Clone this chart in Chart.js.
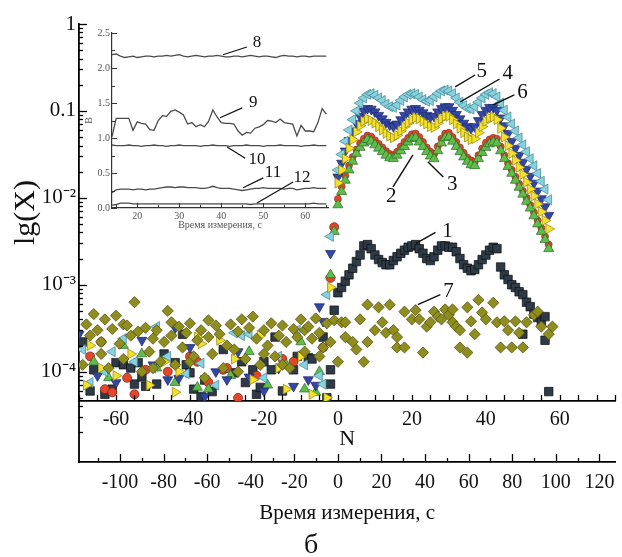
<!DOCTYPE html>
<html>
<head>
<meta charset="utf-8">
<script src="https://cdn.jsdelivr.net/npm/chart.js@4.4.1/dist/chart.umd.min.js"></script>
<style>
  body { margin: 0; background: #fff; }
  #wrap { position: relative; width: 622px; height: 557px; }
  #main { position: absolute; left: 0; top: 0; }
  #inset { position: absolute; left: 70px; top: 20px; }
</style>
</head>
<body>
<div id="wrap">
  <canvas id="main" width="622" height="557"></canvas>
  <canvas id="inset" width="270" height="216"></canvas>
</div>
<script>
// ---- данные основного графика ----
const nMain = [0,1,2,3,4,5,6,7,8,9,10,11,12,13,14,15,16,17,18,19,20,21,22,23,24,25,26,27,28,29,
  30,31,32,33,34,35,36,37,38,39,40,41,42,43,44,45,46,47,48,49,50,51,52,53,54,55,56,57];

// 2 - красные кружки с линией
const s2Main = [0.0097,0.0135,0.018,0.0235,0.0295,0.036,0.0425,0.048,0.052,0.0505,
  0.046,0.042,0.038,0.0345,0.032,0.031,0.034,0.039,0.044,0.049,
  0.054,0.055,0.05,0.044,0.038,0.034,0.032,0.039,0.048,0.055,
  0.056,0.05,0.044,0.038,0.033,0.029,0.027,0.026,0.031,0.037,
  0.043,0.047,0.049,0.048,0.039,0.031,0.025,0.021,0.0175,0.0145,
  0.012,0.01,0.0083,0.0068,0.0055,0.0045,0.0036,0.0029];
// 3 - зелёные треугольники
const s3Main = [0.0083,0.0118,0.0159,0.0209,0.0263,0.0324,0.038,0.0427,0.0468,0.0447,
  0.0407,0.0372,0.0339,0.0309,0.0288,0.0282,0.0309,0.0347,0.0389,0.0437,
  0.0479,0.049,0.0437,0.0389,0.0339,0.0302,0.0282,0.0347,0.0427,0.049,
  0.0501,0.0447,0.0389,0.0339,0.0295,0.0263,0.024,0.0234,0.0282,0.0331,
  0.038,0.0417,0.0437,0.0427,0.0347,0.0282,0.0229,0.0191,0.0159,0.0132,
  0.011,0.0091,0.0076,0.0062,0.005,0.0041,0.0033,0.0026];
// 4 - синие треугольники вниз
const s4Main = [0.0174,0.0251,0.0347,0.0457,0.0589,0.0724,0.0871,0.1,0.107,0.105,
  0.0977,0.0891,0.0813,0.0741,0.0692,0.0661,0.0708,0.0794,0.0891,0.0977,
  0.105,0.107,0.102,0.0955,0.0891,0.0851,0.0871,0.0977,0.107,0.112,
  0.112,0.102,0.0912,0.0813,0.0724,0.0661,0.0631,0.0661,0.0776,0.0912,
  0.102,0.11,0.11,0.102,0.0832,0.0676,0.055,0.0447,0.0372,0.0309,
  0.0257,0.0214,0.0178,0.0148,0.012,0.0098,0.0079,0.0063];
// 5 - голубые треугольники влево
const s5Main = [0.0209,0.0316,0.0447,0.0603,0.0794,0.1,0.123,0.141,0.155,0.158,
  0.151,0.141,0.132,0.12,0.112,0.11,0.117,0.132,0.145,0.155,
  0.158,0.155,0.145,0.135,0.129,0.132,0.145,0.158,0.17,0.174,
  0.17,0.158,0.141,0.126,0.115,0.107,0.105,0.112,0.126,0.141,
  0.155,0.162,0.158,0.145,0.123,0.102,0.0851,0.0708,0.0589,0.049,
  0.0407,0.0339,0.0282,0.0234,0.0191,0.0155,0.0126,0.0095];
// 6 - жёлтые треугольники вправо
const s6Main = [0.0148,0.0209,0.0282,0.0372,0.0468,0.0575,0.0676,0.0759,0.0813,0.0776,
  0.0724,0.066,0.0603,0.055,0.0513,0.049,0.0525,0.0589,0.066,0.0724,
  0.0794,0.0832,0.0813,0.0759,0.0708,0.066,0.0646,0.0724,0.0813,0.0871,
  0.0871,0.0794,0.0708,0.0631,0.0562,0.0501,0.0468,0.0479,0.0562,0.066,
  0.0759,0.0832,0.0851,0.0794,0.0631,0.0501,0.0398,0.0324,0.0269,0.0224,
  0.0186,0.0151,0.0126,0.0105,0.0085,0.0069,0.0055,0.0044];

// точки шума до начала (N < 0), пары [N, значение]
const s1Pts = [[-69,2.2e-4],[-67,6.0e-5],[-66,1.05e-4],[-63,5.5e-5],[-61,6.3e-5],[-60,1.27e-4],[-58,1.2e-4],
  [-56,1.1e-4],[-55,7.2e-5],[-54,1.27e-4],[-53,8.7e-5],[-52,6.8e-5],[-49,7.2e-5],[-47,1.6e-4],[-44,1.27e-4],
  [-42,2.7e-4],[-41,1.2e-4],[-40,9.7e-5],[-39,6.3e-5],[-37,5.2e-5],[-36,8.0e-5],[-34,5.9e-5],[-31,1.8e-4],
  [-28,9.7e-5],[-26,1.3e-4],[-25,7.5e-5],[-23,1.05e-4],[-22,5.5e-5],[-21,6.6e-5],[-20,1.3e-4],[-18,1.05e-4],
  [-17,2.5e-4],[-15,6.0e-5],[-12,1.05e-4],[-11,1.5e-4],[-8,1.45e-4],[-7,1.4e-4],[-4,2.5e-4],[-3,5.0e-5],
  [-2,1.05e-4],[-2,7.2e-5],[-1,5.1e-4],
  [0,8.1e-4],[1,9.3e-4],[2,1.1e-3],[3,1.3e-3],[4,1.55e-3],[5,1.85e-3],[6,2.2e-3],[7,2.8e-3],[8,2.9e-3],
  [9,2.6e-3],[10,2.2e-3],[11,1.95e-3],[12,1.8e-3],[13,1.7e-3],[14,1.7e-3],[15,1.9e-3],[16,2.1e-3],
  [17,2.3e-3],[18,2.5e-3],[19,2.7e-3],[20,2.8e-3],[21,2.9e-3],[22,2.6e-3],[23,2.3e-3],[24,2.0e-3],
  [25,1.9e-3],[26,2.1e-3],[27,2.5e-3],[28,2.8e-3],[29,2.8e-3],[30,2.7e-3],[31,2.7e-3],[32,2.4e-3],
  [33,2.0e-3],[34,1.7e-3],[35,1.55e-3],[36,1.45e-3],[37,1.5e-3],[38,1.7e-3],[39,1.95e-3],[40,2.2e-3],
  [41,2.5e-3],[42,2.7e-3],[43,2.6e-3],[44,1.6e-3],[45,1.3e-3],[46,1.15e-3],[47,1.0e-3],[48,9.3e-4],
  [49,8.3e-4],[50,7.7e-4],[51,6.3e-4],[52,5.6e-4],[53,4.6e-4],[54,4.2e-4],[55,3.7e-4],[56,4.3e-4],
  [50,2.7e-4],[56,2.3e-4],[57,5.9e-5]];
const s2Noise = [[-67,1.5e-4],[-64,2.2e-4],[-63,6.3e-5],[-61,5.8e-5],[-57,8.5e-5],[-55,5.5e-5],[-52,1.05e-4],
  [-46,1.0e-4],[-40,1.5e-4],[-38,1.3e-4],[-35,7.5e-5],[-31,1.05e-4],[-30,1.1e-4],[-27,5.0e-5],[-22,9.0e-5],
  [-15,1.4e-4],[-12,1.3e-4],[-4,1.9e-4],[-2,1.2e-3],[-1,4.6e-3]];
const s3Noise = [[-66,1.3e-4],[-62,8.5e-5],[-58,2.0e-4],[-53,1.6e-4],[-49,1.1e-4],[-44,7.5e-5],[-38,6.6e-5],
  [-35,6.3e-5],[-29,9.0e-5],[-24,1.7e-4],[-19,7.0e-5],[-14,1.2e-4],[-10,2.2e-4],[-9,6.3e-5],[-6,5.8e-5],
  [-5,1.0e-4],[-2,1.3e-3],[-1,4.1e-3]];
const s4Noise = [[-70,2.7e-4],[-65,9.0e-5],[-60,7.5e-5],[-53,2.3e-4],[-50,1.2e-4],[-46,8.1e-5],[-44,3.2e-4],
  [-43,8.4e-5],[-40,1.9e-4],[-36,5.2e-5],[-33,1.0e-4],[-30,8.1e-5],[-27,1.7e-4],[-24,8.7e-5],[-20,6.0e-5],
  [-16,1.1e-4],[-12,6.8e-5],[-8,8.1e-5],[-6,7.0e-5],[-5,5.6e-4],[-4,3.8e-4],[-2,2.3e-3]];
const s5Noise = [[-69,1.8e-4],[-67,7.5e-5],[-63,1.0e-4],[-61,1.7e-4],[-58,2.4e-4],[-55,1.3e-4],[-50,1.1e-4],
  [-49,3.3e-4],[-46,1.5e-4],[-41,9.5e-5],[-37,1.25e-4],[-33,7.0e-5],[-28,2.8e-4],[-26,2.6e-4],[-24,2.7e-4],
  [-20,8.5e-5],[-16,1.5e-4],[-11,3.0e-4],[-9,1.2e-4],[-5,9.0e-5],[-4,7.2e-5],[-3,7.7e-4],[-2,3.6e-3]];
const s6Noise = [[-68,7.0e-5],[-67,2.0e-4],[-64,1.1e-4],[-60,9.0e-5],[-56,1.6e-4],[-51,7.0e-5],[-47,1.3e-4],
  [-44,5.8e-5],[-43,1.0e-4],[-38,2.5e-4],[-37,2.1e-4],[-32,2.3e-4],[-28,1.4e-4],[-23,8.1e-5],[-21,2.6e-4],
  [-16,1.1e-4],[-14,6.3e-5],[-10,1.5e-4],[-7,5.5e-5],[-3,5.0e-5],[-2,9.3e-4]];
// 7 - оливковые ромбы
const s7Pts = [[-69,1.2e-4],[-68,3.5e-4],[-67,2.6e-4],[-66,4.6e-4],[-65,3.0e-4],[-64,2.2e-4],[-64,1.6e-4],
  [-63,4.0e-4],[-62,1.1e-4],[-61,3.1e-4],[-60,4.4e-4],[-59,2.1e-4],[-58,1.4e-4],[-58,3.5e-4],[-57,3.4e-4],
  [-56,2.6e-4],[-55,6.3e-4],[-54,2.9e-4],[-53,1.0e-4],[-52,3.2e-4],[-51,1.7e-4],[-50,2.4e-4],[-50,1.1e-4],
  [-49,3.0e-4],[-48,1.3e-4],[-47,2.2e-4],[-46,5.0e-4],[-45,2.6e-4],[-45,3.7e-4],[-44,1.2e-4],[-43,3.3e-4],
  [-42,1.9e-4],[-41,2.8e-4],[-40,3.6e-4],[-40,1.3e-4],[-39,1.5e-4],[-38,2.3e-4],[-37,3.0e-4],[-36,8.5e-5],
  [-35,2.5e-4],[-35,3.9e-4],[-34,1.6e-4],[-33,3.4e-4],[-32,2.7e-4],[-31,1.1e-4],[-30,2.0e-4],[-29,3.5e-4],
  [-28,1.8e-4],[-27,2.9e-4],[-27,1.0e-4],[-26,4.0e-4],[-25,1.4e-4],[-24,3.2e-4],[-23,4.3e-4],[-22,2.4e-4],
  [-21,1.2e-4],[-20,3.0e-4],[-20,1.6e-4],[-19,2.0e-4],[-18,3.6e-4],[-17,1.5e-4],[-16,2.6e-4],[-15,3.4e-4],
  [-15,1.2e-4],[-14,2.2e-4],[-13,1.1e-4],[-12,3.1e-4],[-11,2.5e-4],[-10,4.0e-4],[-9,1.7e-4],[-9,3.0e-4],
  [-8,3.3e-4],[-7,2.4e-4],[-6,4.1e-4],[-5,2.8e-4],[-5,1.5e-4],[-4,1.9e-4],[-3,3.6e-4],[-2,2.2e-4],[-1,3.9e-4],
  [0,1.3e-4],[1,3.7e-4],[2,2.5e-4],[2,3.7e-4],[4,2.2e-4],[5,1.8e-4],[6,4.0e-4],[7,1.3e-4],[8,5.9e-4],
  [8,2.2e-4],[10,3.0e-4],[11,5.5e-4],[12,3.7e-4],[13,2.8e-4],[14,5.9e-4],[15,3.0e-4],[16,2.5e-4],[16,1.9e-4],
  [18,1.9e-4],[18,4.9e-4],[20,4.0e-4],[21,5.1e-4],[22,4.0e-4],[23,1.66e-4],[24,3.3e-4],[25,3.7e-4],
  [26,4.9e-4],[27,4.3e-4],[28,4.0e-4],[29,5.2e-4],[30,4.5e-4],[31,3.7e-4],[31,5.2e-4],[32,3.3e-4],
  [33,3.0e-4],[33,1.9e-4],[35,5.5e-4],[35,1.66e-4],[36,3.8e-4],[37,2.7e-4],[38,6.7e-4],[39,4.8e-4],
  [40,4.0e-4],[42,6.2e-4],[43,3.7e-4],[44,1.9e-4],[45,3.8e-4],[46,3.0e-4],[47,1.9e-4],[48,3.8e-4],
  [49,2.8e-4],[50,1.9e-4],[51,3.7e-4],[53,4.5e-4],[54,4.9e-4],[55,3.3e-4],[57,2.7e-4],[58,3.3e-4]];

const yTickValues = [1e-4, 1e-3, 1e-2, 0.1, 1];
const yTickLabels = ['10⁻⁴', '10⁻³', '10⁻²', '0.1', '1'];
const nTickValues = [-60, -40, -20, 0, 20, 40, 60];
const timeTickValues = [-100, -80, -60, -40, -20, 0, 20, 40, 60, 80, 100, 120];

// ---- данные вставки (B от времени) ----
const insetT = [14,15,16,17,18,19,20,21,22,23,24,25,26,27,28,29,30,31,32,33,34,35,36,37,38,39,
  40,41,42,43,44,45,46,47,48,49,50,51,52,53,54,55,56,57,58,59,60,61,62,63,64,65];
const b8 = [2.19,2.20,2.17,2.15,2.16,2.17,2.15,2.16,2.17,2.17, 2.16,2.17,2.17,2.18,2.17,2.18,2.19,2.17,2.16,2.17,
  2.18,2.17,2.16,2.17,2.17,2.18,2.17,2.16,2.16,2.17, 2.17,2.16,2.17,2.18,2.17,2.16,2.17,2.17,2.16,2.15,
  2.17,2.18,2.17,2.17,2.16,2.17,2.17,2.16,2.17,2.17, 2.17,2.17];
const b9 = [1.02,1.28,1.28,1.28,1.28,1.11,1.23,1.21,1.20,1.12, 1.11,1.25,1.32,1.31,1.38,1.40,1.37,1.33,1.20,1.22,
  1.16,1.19,1.16,1.24,1.40,1.30,1.22,1.21,1.21,1.20, 1.10,1.04,1.08,1.07,1.14,1.16,1.19,1.25,1.24,1.22,
  1.27,1.22,1.21,1.20,1.03,1.18,1.10,1.10,1.09,1.22, 1.42,1.34];
const b10 = [0.90,0.89,0.89,0.89,0.90,0.89,0.89,0.88,0.89,0.89, 0.90,0.89,0.89,0.88,0.89,0.89,0.90,0.89,0.89,0.89,
  0.89,0.88,0.89,0.89,0.90,0.89,0.89,0.89,0.88,0.89, 0.89,0.89,0.90,0.89,0.89,0.89,0.88,0.89,0.89,0.89,
  0.90,0.89,0.89,0.89,0.89,0.88,0.89,0.89,0.90,0.89, 0.89,0.89];
const b11 = [0.22,0.26,0.27,0.27,0.27,0.26,0.27,0.27,0.26,0.27, 0.27,0.28,0.29,0.30,0.30,0.29,0.30,0.30,0.29,0.29,
  0.29,0.28,0.28,0.29,0.31,0.29,0.28,0.28,0.28,0.27, 0.26,0.25,0.26,0.27,0.28,0.28,0.29,0.28,0.28,0.28,
  0.28,0.27,0.28,0.28,0.26,0.27,0.28,0.28,0.29,0.28, 0.28,0.28];
const b12 = [0.04,0.05,0.07,0.07,0.07,0.06,0.06,0.06,0.06,0.06, 0.06,0.06,0.06,0.06,0.06,0.06,0.06,0.06,0.06,0.06,
  0.06,0.06,0.06,0.06,0.06,0.06,0.06,0.06,0.06,0.06, 0.06,0.06,0.06,0.05,0.06,0.06,0.06,0.06,0.06,0.06,
  0.06,0.06,0.06,0.06,0.06,0.06,0.06,0.06,0.07,0.06, 0.06,0.06];

// подписи кривых: [N, значение] для текста и выносной линии
const mainNotes = [
  {text: '1', at: [29.6, 4.1e-3], from: [21.1, 3.0e-3], to: [26.4, 4.0e-3]},
  {text: '2', at: [14.4, 0.0103], from: [14.9, 0.0134], to: [20.3, 0.0312]},
  {text: '3', at: [30.9, 0.0141], from: [28.5, 0.0174], to: [24.3, 0.026]},
  {text: '4', at: [45.9, 0.273], from: [33.1, 0.127], to: [43.7, 0.233]},
  {text: '5', at: [38.9, 0.281], from: [31.7, 0.189], to: [37.1, 0.259]},
  {text: '6', at: [49.9, 0.161], from: [41.9, 0.117], to: [47.7, 0.153]},
  {text: '7', at: [29.9, 8.3e-4], from: [21.6, 5.9e-4], to: [27.7, 7.7e-4]}
];
const insetNotes = [
  {text: '8', at: [48.5, 2.36], from: [40.4, 2.19], to: [46.1, 2.30]},
  {text: '9', at: [47.6, 1.50], from: [39.7, 1.29], to: [45.0, 1.43]},
  {text: '10', at: [48.5, 0.69], from: [41.4, 0.87], to: [45.7, 0.71]},
  {text: '11', at: [52.3, 0.50], from: [45.2, 0.29], to: [50.0, 0.43]},
  {text: '12', at: [59.2, 0.44], from: [48.5, 0.07], to: [57.1, 0.37]}
];

const serif = "'Liberation Serif', 'Times New Roman', serif";
Chart.defaults.font.family = serif;
Chart.defaults.color = '#111';

function pts(xs, ys) { return xs.map((x, i) => ({x: x, y: ys[i]})); }
function pairs(list) { return list.map(p => ({x: p[0], y: p[1]})); }

// засечки внутрь осей
const inTicks = {
  id: 'inTicks',
  afterDraw(chart, args, opts) {
    const ctx = chart.ctx;
    ctx.save();
    ctx.strokeStyle = opts.color || '#000';
    ctx.lineWidth = opts.width || 1.3;
    (opts.marks || []).forEach(m => {
      const s = chart.scales[m.axis];
      m.values.forEach(v => {
        const p = Math.round(s.getPixelForValue(v)) + 0.5;
        ctx.beginPath();
        if (s.isHorizontal()) { ctx.moveTo(p, s.top); ctx.lineTo(p, s.top - m.len); }
        else { ctx.moveTo(s.right, p); ctx.lineTo(s.right + m.len, p); }
        ctx.stroke();
      });
    });
    ctx.restore();
  }
};

const notes = {
  id: 'notes',
  afterDatasetsDraw(chart, args, opts) {
    const ctx = chart.ctx, xs = chart.scales.x, ys = chart.scales.y;
    ctx.save();
    ctx.strokeStyle = '#111';
    ctx.fillStyle = '#111';
    ctx.lineWidth = opts.lineWidth || 1.4;
    ctx.font = opts.font;
    ctx.textAlign = 'center';
    ctx.textBaseline = 'middle';
    (opts.items || []).forEach(it => {
      ctx.beginPath();
      ctx.moveTo(xs.getPixelForValue(it.from[0]), ys.getPixelForValue(it.from[1]));
      ctx.lineTo(xs.getPixelForValue(it.to[0]), ys.getPixelForValue(it.to[1]));
      ctx.stroke();
      ctx.fillText(it.text, xs.getPixelForValue(it.at[0]), ys.getPixelForValue(it.at[1]));
    });
    ctx.restore();
  }
};

// соединительная линия между осями и подпись "б"
const extras = {
  id: 'extras',
  afterDraw(chart) {
    const ctx = chart.ctx, a = chart.chartArea, t = chart.scales.time;
    ctx.save();
    ctx.strokeStyle = '#000';
    ctx.lineWidth = 1.8;
    ctx.beginPath();
    ctx.moveTo(a.left, a.bottom);
    ctx.lineTo(a.left, t.top + 1);
    ctx.stroke();
    ctx.fillStyle = '#111';
    ctx.font = '28px ' + serif;
    ctx.textAlign = 'center';
    ctx.textBaseline = 'middle';
    ctx.fillText('б', 311, 546);
    ctx.restore();
  }
};

// минорные засечки логарифмической оси
const yMinor = [];
[1e-5, 1e-4, 1e-3, 1e-2, 0.1].forEach(d => { for (let k = 2; k <= 9; k++) yMinor.push(d * k); });
const nMinor = [];
for (let v = -70; v <= 75; v += 5) nMinor.push(v);
const tMajor = [], tMinor = [];
for (let v = -110; v <= 120; v += 10) (v % 20 === 0 ? tMajor : tMinor).push(v);

function fixW(w) { return s => { s.width = w; s.paddingTop = 0; s.paddingBottom = 0; }; }
function fixH(h) { return s => { s.height = h; s.paddingLeft = 0; s.paddingRight = 0; }; }

const mk = (bg, bd) => ({pointBackgroundColor: bg, pointBorderColor: bd, pointBorderWidth: 0.7,
  backgroundColor: bg, borderColor: bd});

new Chart(document.getElementById('main'), {
  type: 'scatter',
  data: {
    datasets: [
      Object.assign({label: '1', data: pairs(s1Pts), pointStyle: 'rect', pointRadius: 6, order: 7}, mk('#2e3a45', '#0c0f12')),
      Object.assign({label: '2', data: pairs(s2Noise), pointStyle: 'circle', pointRadius: 4.5, order: 6}, mk('#e2462b', '#7a1d0e')),
      {label: '2', data: pts(nMain, s2Main), showLine: true, borderColor: '#d8452a', borderWidth: 2.4,
        pointStyle: 'circle', pointRadius: 3.5, pointBackgroundColor: '#e2462b', pointBorderColor: '#8a2712',
        pointBorderWidth: 0.6, order: 6},
      Object.assign({label: '3', data: pairs(s3Noise).concat(pts(nMain, s3Main)), pointStyle: 'triangle',
        pointRotation: 0, pointRadius: 5.8, order: 5}, mk('#5fbd4b', '#2a6a22')),
      Object.assign({label: '4', data: pairs(s4Noise).concat(pts(nMain, s4Main)), pointStyle: 'triangle',
        pointRotation: 180, pointRadius: 5.8, order: 4}, mk('#3447a6', '#1b2766')),
      Object.assign({label: '5', data: pairs(s5Noise).concat(pts(nMain, s5Main)), pointStyle: 'triangle',
        pointRotation: 270, pointRadius: 5.8, order: 3}, mk('#8ad1de', '#3d8594')),
      Object.assign({label: '6', data: pairs(s6Noise).concat(pts(nMain, s6Main)), pointStyle: 'triangle',
        pointRotation: 90, pointRadius: 5.8, order: 2}, mk('#f4e22a', '#8e8112')),
      Object.assign({label: '7', data: pairs(s7Pts), pointStyle: 'rectRot', pointRadius: 5.6, order: 1}, mk('#8f8d1e', '#4c4a0a'))
    ]
  },
  options: {
    responsive: false,
    animation: false,
    devicePixelRatio: 1,
    layout: {padding: {left: 0, right: 0, top: 24, bottom: 29}},
    plugins: {
      legend: {display: false},
      tooltip: {enabled: false},
      notes: {items: mainNotes, font: '21px ' + serif},
      inTicks: {marks: [
        {axis: 'y', values: yTickValues, len: 8},
        {axis: 'y', values: yMinor, len: 4},
        {axis: 'x', values: nMinor, len: 6},
        {axis: 'time', values: tMajor, len: 8},
        {axis: 'time', values: tMinor, len: 4}
      ]}
    },
    scales: {
      x: {
        type: 'linear', position: 'bottom', weight: 0, min: -70, max: 75,
        afterBuildTicks: s => { s.ticks = nTickValues.map(v => ({value: v})); },
        afterFit: fixH(61),
        grid: {drawOnChartArea: false, drawTicks: false},
        border: {color: '#000', width: 1.8},
        ticks: {font: {size: 20}, padding: 7, maxRotation: 0, autoSkip: false, color: '#111'},
        title: {display: true, text: 'N', font: {size: 22}, padding: {top: 0, bottom: 10}, color: '#111'}
      },
      time: {
        type: 'linear', position: 'bottom', weight: 1, min: -118.8, max: 127.3,
        afterBuildTicks: s => { s.ticks = timeTickValues.map(v => ({value: v})); },
        afterFit: fixH(66),
        grid: {drawOnChartArea: false, drawTicks: false},
        border: {color: '#000', width: 1.8},
        ticks: {font: {size: 20}, padding: 9, maxRotation: 0, autoSkip: false, color: '#111'},
        title: {display: true, text: 'Время измерения, с', font: {size: 21}, padding: {top: 0, bottom: 2}, color: '#111'}
      },
      y: {
        type: 'logarithmic', position: 'left', min: 4.6e-5, max: 1,
        afterBuildTicks: s => { s.ticks = yTickValues.map(v => ({value: v})); },
        afterFit: fixW(79),
        grid: {drawOnChartArea: false, drawTicks: false},
        border: {color: '#000', width: 1.8},
        ticks: {font: {size: 21}, padding: 3, color: '#111', callback: (v, i) => yTickLabels[i]},
        title: {display: true, text: 'lg(X)', font: {size: 30}, padding: {top: 8, bottom: 0}, color: '#111'}
      }
    }
  },
  plugins: [inTicks, notes, extras]
});

// ---- вставка ----
const insetXMinor = [], insetYMinor = [];
for (let v = 15; v <= 65; v += 5) insetXMinor.push(v);
for (let v = 0; v <= 2.5; v += 0.25) insetYMinor.push(v);
const insetLine = {showLine: true, borderColor: '#4a4a4a', borderWidth: 1.3, pointRadius: 0, tension: 0};

new Chart(document.getElementById('inset'), {
  type: 'scatter',
  data: {
    datasets: [
      Object.assign({label: '8', data: pts(insetT, b8)}, insetLine),
      Object.assign({label: '9', data: pts(insetT, b9)}, insetLine),
      Object.assign({label: '10', data: pts(insetT, b10)}, insetLine),
      Object.assign({label: '11', data: pts(insetT, b11)}, insetLine),
      Object.assign({label: '12', data: pts(insetT, b12)}, insetLine)
    ]
  },
  options: {
    responsive: false,
    animation: false,
    devicePixelRatio: 1,
    layout: {padding: {left: 0, right: 12, top: 13, bottom: 0}},
    plugins: {
      legend: {display: false},
      tooltip: {enabled: false},
      notes: {items: insetNotes, font: '17px ' + serif, lineWidth: 1.2},
      inTicks: {color: '#333', width: 1, marks: [
        {axis: 'x', values: [20, 30, 40, 50, 60], len: 5},
        {axis: 'x', values: insetXMinor, len: 3},
        {axis: 'y', values: [0, 0.5, 1, 1.5, 2, 2.5], len: 5},
        {axis: 'y', values: insetYMinor, len: 3}
      ]}
    },
    scales: {
      x: {
        type: 'linear', min: 14, max: 65.4,
        afterBuildTicks: s => { s.ticks = [20, 30, 40, 50, 60].map(v => ({value: v})); },
        afterFit: fixH(28),
        grid: {drawOnChartArea: false, drawTicks: false},
        border: {color: '#333', width: 1.2},
        ticks: {font: {size: 10}, padding: 2, color: '#555', maxRotation: 0, autoSkip: false},
        title: {display: true, text: 'Время измерения, с', font: {size: 10}, padding: {top: 0, bottom: 5}, color: '#555'}
      },
      y: {
        min: 0, max: 2.5,
        afterBuildTicks: s => { s.ticks = [0, 0.5, 1, 1.5, 2, 2.5].map(v => ({value: v})); },
        afterFit: fixW(42),
        grid: {drawOnChartArea: false, drawTicks: false},
        border: {color: '#333', width: 1.2},
        ticks: {font: {size: 10}, padding: 2, color: '#555', callback: v => v.toFixed(1)},
        title: {display: true, text: 'B', font: {size: 10}, padding: {top: 13, bottom: 0}, color: '#555'}
      }
    }
  },
  plugins: [inTicks, notes]
});
</script>
</body>
</html>
